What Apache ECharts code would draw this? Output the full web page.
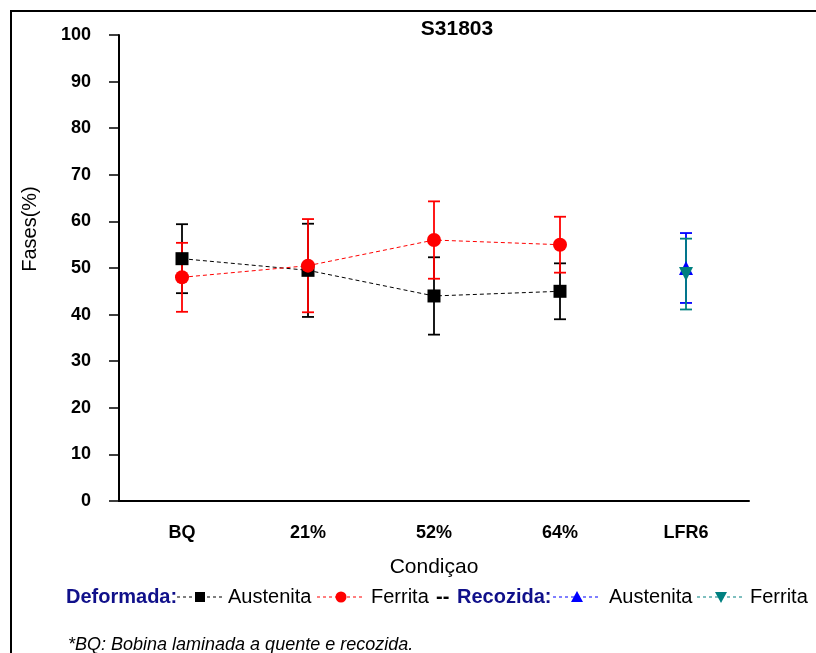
<!DOCTYPE html>
<html>
<head>
<meta charset="utf-8">
<script src="https://cdn.jsdelivr.net/npm/echarts@6/dist/echarts.min.js"></script>
<style>
html,body{margin:0;padding:0;background:#fff;}
#chart{width:816px;height:653px;}
</style>
</head>
<body>
<div id="chart"></div>
<script>
const categories = ['BQ', '21%', '52%', '64%', 'LFR6'];
const yTicks = [0, 10, 20, 30, 40, 50, 60, 70, 80, 90, 100];

const defAustenita = [52, 49.5, 44, 45, null];
const defAustenitaErr = [7.4, 10, 8.3, 6, null];
const defFerrita = [48, 50.5, 56, 55, null];
const defFerritaErr = [7.4, 10, 8.3, 6, null];
const recAustenita = [null, null, null, null, 50];
const recAustenitaErr = [null, null, null, null, 7.5];
const recFerrita = [null, null, null, null, 48.7];
const recFerritaErr = [null, null, null, null, 7.6];

const FONT = 'Liberation Sans, Arial, sans-serif';

function errData(vals, errs) {
  const out = [];
  vals.forEach((v, i) => {
    if (v != null && errs[i] != null) out.push([i, v - errs[i], v + errs[i]]);
  });
  return out;
}

function errSeries(vals, errs, color) {
  return {
    type: 'custom',
    z: 2,
    silent: true,
    data: errData(vals, errs),
    renderItem: function (params, api) {
      const x = api.value(0);
      const lo = api.coord([x, api.value(1)]);
      const hi = api.coord([x, api.value(2)]);
      const w = 6;
      const style = { stroke: color, lineWidth: 1.8, fill: null };
      return {
        type: 'group',
        children: [
          { type: 'line', shape: { x1: lo[0], y1: lo[1], x2: hi[0], y2: hi[1] }, style: style },
          { type: 'line', shape: { x1: hi[0] - w, y1: hi[1], x2: hi[0] + w, y2: hi[1] }, style: style },
          { type: 'line', shape: { x1: lo[0] - w, y1: lo[1], x2: lo[0] + w, y2: lo[1] }, style: style }
        ]
      };
    }
  };
}

function lineSeries(name, vals, color, symbol, size, rotate, z) {
  return {
    name: name,
    type: 'line',
    z: z || 5,
    data: vals,
    symbol: symbol,
    symbolSize: size,
    symbolRotate: rotate || 0,
    showAllSymbol: true,
    itemStyle: { color: color, opacity: 1 },
    lineStyle: { color: color, width: 1, type: [4, 3] },
    animation: false
  };
}

const navy = '#10108a';
const legendY = 597;
function legendLine(x1, x2, color, symbol) {
  const items = [
    { type: 'line', shape: { x1: x1, y1: legendY, x2: x2, y2: legendY }, style: { stroke: color, lineWidth: 1, lineDash: [3, 3] } }
  ];
  const cx = (x1 + x2) / 2;
  if (symbol === 'rect') items.push({ type: 'rect', shape: { x: cx - 5, y: legendY - 5, width: 10, height: 10 }, style: { fill: color } });
  if (symbol === 'circle') items.push({ type: 'circle', shape: { cx: cx, cy: legendY, r: 5.5 }, style: { fill: color } });
  if (symbol === 'up') items.push({ type: 'polygon', shape: { points: [[cx, legendY - 6], [cx + 6, legendY + 5], [cx - 6, legendY + 5]] }, style: { fill: color } });
  if (symbol === 'down') items.push({ type: 'polygon', shape: { points: [[cx, legendY + 6], [cx + 6, legendY - 5], [cx - 6, legendY - 5]] }, style: { fill: color } });
  return items;
}
function txt(x, y, text, opts) {
  return {
    type: 'text', x: x, y: y,
    style: Object.assign({ text: text, font: '20px ' + FONT, fill: '#000', textAlign: 'left', textVerticalAlign: 'middle' }, opts || {})
  };
}

const chart = echarts.init(document.getElementById('chart'), null, { renderer: 'canvas' });
const option = {
  backgroundColor: '#fff',
  animation: false,
  grid: { left: 119, top: 35, width: 630, height: 466, containLabel: false },
  xAxis: {
    type: 'category',
    data: categories,
    boundaryGap: true,
    name: 'Condiçao',
    nameLocation: 'middle',
    nameGap: 56,
    nameTextStyle: { fontFamily: FONT, fontSize: 21, color: '#000' },
    axisLine: { lineStyle: { color: '#000', width: 2 } },
    axisTick: { alignWithLabel: true, length: 10, lineStyle: { color: '#000', width: 1.5 } },
    axisLabel: { fontFamily: FONT, fontSize: 18, fontWeight: 'bold', color: '#000', margin: 23 },
    splitLine: { show: false }
  },
  yAxis: {
    type: 'value',
    min: yTicks[0],
    max: yTicks[yTicks.length - 1],
    interval: 10,
    axisLine: { show: true, lineStyle: { color: '#000', width: 2 } },
    axisTick: { show: true, length: 10, lineStyle: { color: '#000', width: 1.5 } },
    axisLabel: { fontFamily: FONT, fontSize: 18, fontWeight: 'bold', color: '#000', margin: 28 },
    splitLine: { show: false }
  },
  series: [
    errSeries(defAustenita, defAustenitaErr, '#000'),
    errSeries(defFerrita, defFerritaErr, '#ff0000'),
    errSeries(recAustenita, recAustenitaErr, '#0000ff'),
    errSeries(recFerrita, recFerritaErr, '#008080'),
    lineSeries('Deformada Austenita', defAustenita, '#000', 'rect', 13),
    lineSeries('Deformada Ferrita', defFerrita, '#ff0000', 'circle', 14),
    lineSeries('Recozida Austenita', recAustenita, '#0000ff', 'triangle', 14, 0, 5),
    lineSeries('Recozida Ferrita', recFerrita, '#008080', 'triangle', 14, 180, 6)
  ],
  graphic: [
    { type: 'rect', shape: { x: 11, y: 11, width: 900, height: 800 }, style: { fill: null, stroke: '#000', lineWidth: 2 }, silent: true },
    txt(457, 29, 'S31803', { font: 'bold 21px ' + FONT, textAlign: 'center' }),
    { type: 'text', x: 30, y: 229, rotation: Math.PI / 2, style: { text: 'Fases(%)', font: '20px ' + FONT, fill: '#000', textAlign: 'center', textVerticalAlign: 'middle' } },
    txt(66, legendY, 'Deformada:', { font: 'bold 20px ' + FONT, fill: navy }),
    ...legendLine(177, 223, '#000', 'rect'),
    txt(228, legendY, 'Austenita'),
    ...legendLine(317, 365, '#ff0000', 'circle'),
    txt(371, legendY, 'Ferrita'),
    txt(436, legendY, '--', { font: 'bold 20px ' + FONT }),
    txt(457, legendY, 'Recozida:', { font: 'bold 20px ' + FONT, fill: navy }),
    ...legendLine(553, 601, '#0000ff', 'up'),
    txt(609, legendY, 'Austenita'),
    ...legendLine(697, 745, '#008080', 'down'),
    txt(750, legendY, 'Ferrita'),
    txt(68, 645, '*BQ: Bobina laminada a quente e recozida.', { font: 'italic 18px ' + FONT })
  ]
};
chart.setOption(option);
</script>
</body>
</html>
